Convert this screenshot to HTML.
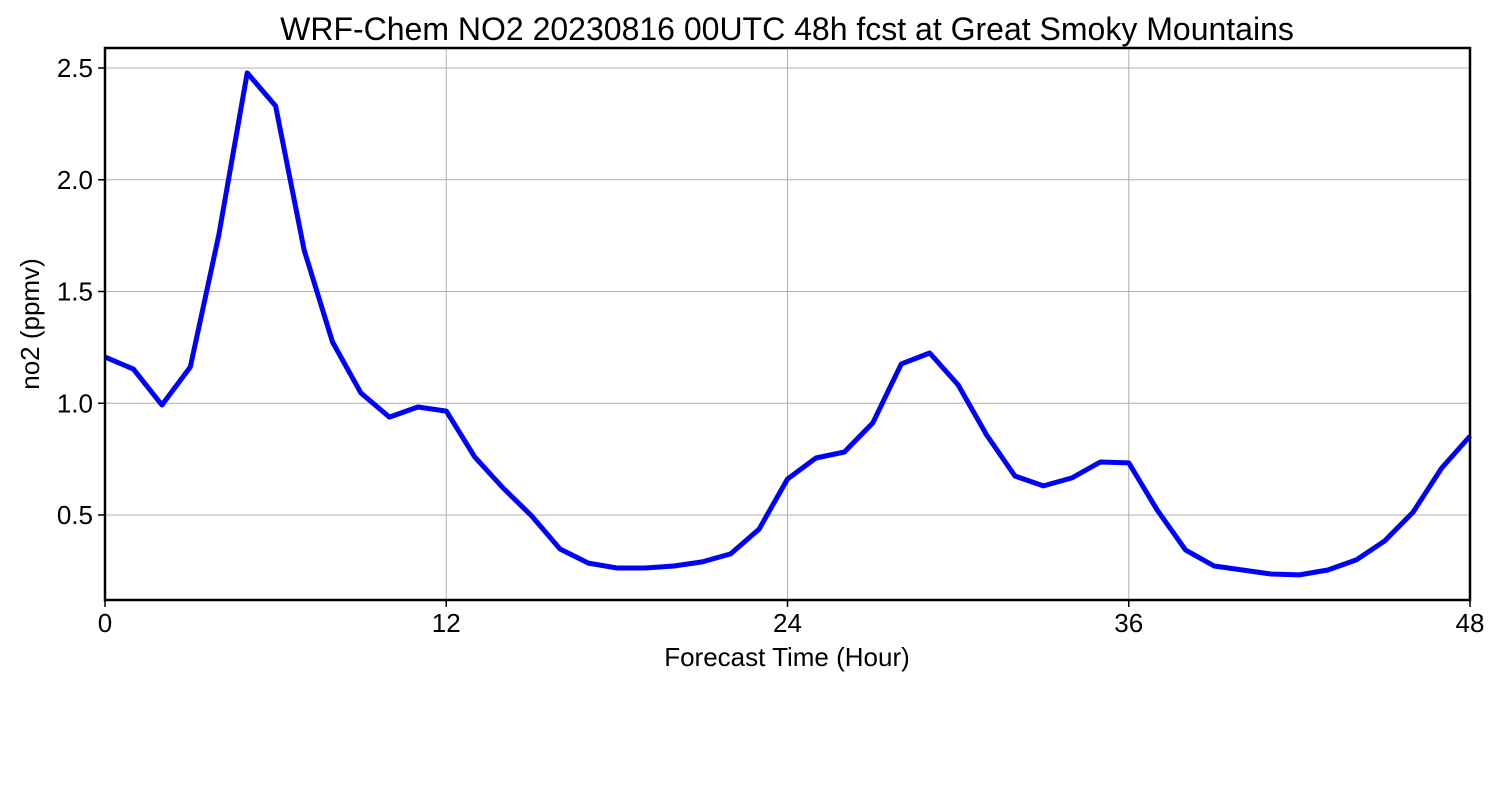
<!DOCTYPE html>
<html><head><meta charset="utf-8"><style>
html,body{margin:0;padding:0;background:#fff;}
svg{display:block;font-family:"Liberation Sans","DejaVu Sans",sans-serif;}
</style></head><body>
<svg id="chart" width="1500" height="800" viewBox="0 0 1500 800">
<rect width="1500" height="800" fill="#fff"/>
<text x="787" y="40" font-size="32" text-anchor="middle" fill="#000">WRF-Chem NO2  20230816 00UTC 48h fcst at Great Smoky Mountains</text>
<g id="grid"></g>
<g id="ticks"></g>
<g id="series"></g>
<rect x="105" y="48" width="1365" height="552" fill="none" stroke="#000" stroke-width="2.5"/>
<text x="787" y="666" font-size="26" text-anchor="middle">Forecast Time (Hour)</text>
<text transform="translate(39,324) rotate(-90)" font-size="26" text-anchor="middle">no2  (ppmv)</text>
</svg>
<script>
const hours=[0,1,2,3,4,5,6,7,8,9,10,11,12,13,14,15,16,17,18,19,20,21,22,23,24,25,26,27,28,29,30,31,32,33,34,35,36,37,38,39,40,41,42,43,44,45,46,47,48];
const no2=[1.207,1.153,0.992,1.162,1.753,2.478,2.330,1.686,1.274,1.046,0.938,0.983,0.965,0.760,0.621,0.496,0.348,0.285,0.263,0.263,0.272,0.290,0.326,0.437,0.661,0.755,0.782,0.912,1.176,1.225,1.082,0.858,0.674,0.630,0.666,0.737,0.733,0.522,0.343,0.272,0.254,0.236,0.232,0.254,0.299,0.384,0.513,0.710,0.853];
const xTicks=[0,12,24,36,48];
const yTicks=[0.5,1.0,1.5,2.0,2.5];
const yTickLabels=["0.5","1.0","1.5","2.0","2.5"];
const NS="http://www.w3.org/2000/svg";
function xs(v){return 105+(v-0)/48*1365;}
function ys(v){return 515-(v-0.5)*223.5;}
const grid=document.getElementById('grid'),ticks=document.getElementById('ticks'),series=document.getElementById('series');
function mk(tag,attrs,parent){const e=document.createElementNS(NS,tag);for(const k in attrs)e.setAttribute(k,attrs[k]);parent.appendChild(e);return e;}
xTicks.forEach(t=>{
 const x=xs(t);
 const g=mk('line',{x1:x,x2:x,y1:48,y2:600,stroke:'#b0b0b0','stroke-width':1},grid);
 
 
 const tk=mk('line',{x1:x,x2:x,y1:600,y2:607,stroke:'#000','stroke-width':1.5},ticks);
 
 
 const l=mk('text',{x:x,y:632,'font-size':26,'text-anchor':'middle'},ticks);
 l.textContent=String(t);
 
 
});
yTicks.forEach((t,i)=>{
 const y=ys(t);
 const g=mk('line',{x1:105,x2:1470,y1:y,y2:y,stroke:'#b0b0b0','stroke-width':1},grid);
 
 
 const tk=mk('line',{x1:98,x2:105,y1:y,y2:y,stroke:'#000','stroke-width':1.5},ticks);
 
 
 const l=mk('text',{x:93,y:y+9,'font-size':26,'text-anchor':'end'},ticks);
 l.textContent=yTickLabels[i];
 
 
});
const pts=hours.map((h,i)=>xs(h).toFixed(1)+','+ys(no2[i]).toFixed(1)).join(' ');
const line=mk('polyline',{points:pts,fill:'none',stroke:'#0000ff','stroke-width':5,'stroke-linejoin':'round'},series);


</script>
</body></html>
